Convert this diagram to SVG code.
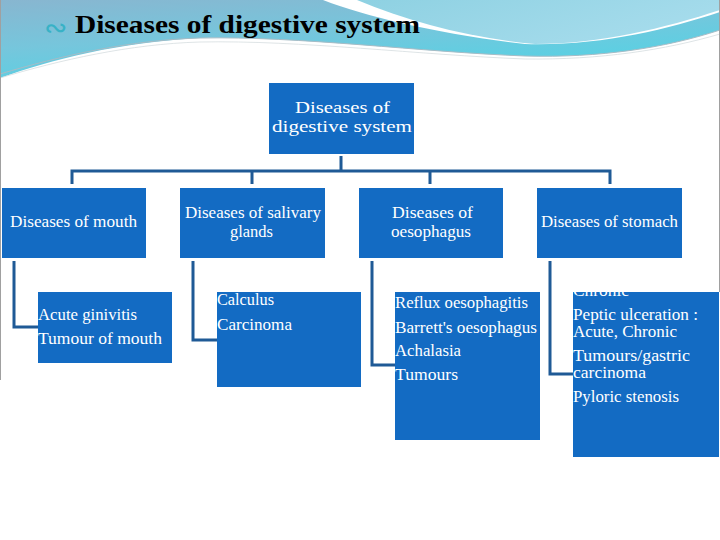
<svg xmlns="http://www.w3.org/2000/svg" width="720" height="540" viewBox="0 0 720 540">
<defs>
<linearGradient id="gb" x1="0" y1="0" x2="0.5" y2="1">
<stop offset="0" stop-color="#88b6d0"/>
<stop offset="0.5" stop-color="#76c6dc"/>
<stop offset="1" stop-color="#55d2e4"/>
</linearGradient>
<linearGradient id="ga" x1="0" y1="0" x2="1" y2="0.4">
<stop offset="0" stop-color="#8ed1e2"/>
<stop offset="1" stop-color="#a6dcec"/>
</linearGradient>
<style>
.box{fill:#136bc3}
.t{font-family:"Liberation Serif","DejaVu Serif",serif;font-size:16px;fill:#ffffff}
.c{text-anchor:middle}
.con{fill:none;stroke:#1f5a96;stroke-width:3}
</style>
</defs>
<rect width="720" height="540" fill="#ffffff"/>
<!-- header waves -->
<path d="M0,0 H323 C370,18 440,34 525,44 C600,46 665,30 720,12 V30 C665,48 600,58 525,56 C420,52 300,36 200,38 C120,42 50,60 0,78 Z" fill="url(#gb)"/>
<path d="M357,0 H720 V10 C665,28 600,44 535,44 C470,38 410,22 357,0 Z" fill="url(#ga)"/>
<path d="M0,74 C60,56 130,40 200,38 C300,36 420,52 525,56 C600,58 665,48 720,30" fill="none" stroke="#a6bcc6" stroke-width="1"/>
<path d="M0,78 C60,60 130,44 200,42 C300,40 420,55 525,59 C600,60 665,50 720,34" fill="none" stroke="#d5dde0" stroke-width="0.8"/>
<line x1="0.5" y1="0" x2="0.5" y2="380" stroke="#a0a0a0" stroke-width="1"/>
<line x1="719.5" y1="0" x2="719.5" y2="292" stroke="#a0a0a0" stroke-width="1"/>
<text x="44" y="37" font-family="DejaVu Sans, sans-serif" font-size="28" fill="#38b2c6">∾</text>
<text x="75" y="33" font-family="Liberation Serif, serif" font-size="26" font-weight="bold" fill="#000000" textLength="345" lengthAdjust="spacingAndGlyphs">Diseases of digestive system</text>

<g id="connectors">
<path class="con" d="M341,156 V171 M72,184 V171 H610 V184 M252,171 V184 M430,171 V184"/>
<path class="con" d="M14,261 V327 H38"/>
<path class="con" d="M193,261 V340 H217"/>
<path class="con" d="M372,261 V365 H395"/>
<path class="con" d="M550,261 V374 H573"/>
</g>

<g id="root">
<rect class="box" x="269" y="83" width="145" height="71"/>
<text class="t" x="295" y="113" textLength="95" lengthAdjust="spacingAndGlyphs">Diseases of</text>
<text class="t" x="272" y="132" textLength="140" lengthAdjust="spacingAndGlyphs">digestive system</text>
</g>

<g id="mouth">
<rect class="box" x="2" y="188" width="144" height="70"/>
<text class="t" x="10" y="227" textLength="127" lengthAdjust="spacingAndGlyphs">Diseases of mouth</text>
</g>
<g id="salivary">
<rect class="box" x="180" y="188" width="145" height="70"/>
<text class="t" x="185" y="218" textLength="136" lengthAdjust="spacingAndGlyphs">Diseases  of salivary</text>
<text class="t" x="230" y="237" textLength="43" lengthAdjust="spacingAndGlyphs">glands</text>
</g>
<g id="oesophagus">
<rect class="box" x="359" y="188" width="144" height="70"/>
<text class="t" x="392" y="218" textLength="81" lengthAdjust="spacingAndGlyphs">Diseases  of</text>
<text class="t" x="391" y="237" textLength="80" lengthAdjust="spacingAndGlyphs">oesophagus</text>
</g>
<g id="stomach">
<rect class="box" x="537" y="188" width="145" height="70"/>
<text class="t" x="541" y="227" textLength="137" lengthAdjust="spacingAndGlyphs">Diseases of stomach</text>
</g>

<g id="mouth-list">
<rect class="box" x="38" y="292" width="134" height="71"/>
<text class="t" x="38" y="320" textLength="99" lengthAdjust="spacingAndGlyphs">Acute ginivitis</text>
<text class="t" x="38" y="344" textLength="124" lengthAdjust="spacingAndGlyphs">Tumour of mouth</text>
</g>
<g id="salivary-list">
<rect class="box" x="217" y="292" width="144" height="95"/>
<text class="t" x="217" y="305" textLength="57" lengthAdjust="spacingAndGlyphs">Calculus</text>
<text class="t" x="217" y="330" textLength="75" lengthAdjust="spacingAndGlyphs">Carcinoma</text>
</g>
<g id="oesophagus-list">
<rect class="box" x="395" y="292" width="145" height="148"/>
<text class="t" x="395" y="308" textLength="133" lengthAdjust="spacingAndGlyphs">Reflux oesophagitis</text>
<text class="t" x="395" y="333" textLength="142" lengthAdjust="spacingAndGlyphs">Barrett's oesophagus</text>
<text class="t" x="395" y="356" textLength="66" lengthAdjust="spacingAndGlyphs">Achalasia</text>
<text class="t" x="395" y="380" textLength="63" lengthAdjust="spacingAndGlyphs">Tumours</text>
</g>
<g id="stomach-list">
<rect class="box" x="573" y="292" width="146" height="165"/>
<text class="t" x="573" y="296" textLength="56" lengthAdjust="spacingAndGlyphs">Chronic</text>
<text class="t" x="573" y="320" textLength="125" lengthAdjust="spacingAndGlyphs">Peptic ulceration :</text>
<text class="t" x="573" y="337" textLength="104" lengthAdjust="spacingAndGlyphs">Acute, Chronic</text>
<text class="t" x="573" y="361" textLength="117" lengthAdjust="spacingAndGlyphs">Tumours/gastric</text>
<text class="t" x="573" y="378" textLength="73" lengthAdjust="spacingAndGlyphs">carcinoma</text>
<text class="t" x="573" y="402" textLength="106" lengthAdjust="spacingAndGlyphs">Pyloric stenosis</text>
</g>
</svg>
